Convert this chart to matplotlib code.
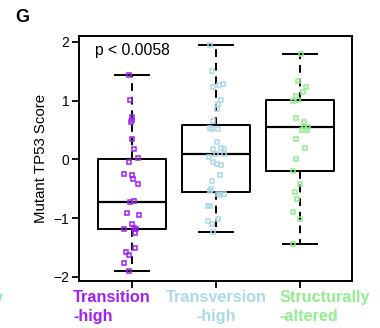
#
# Mutant TP53 score by mutation signature group (panel G)
#

import matplotlib.pyplot as plt

plt.rcParams['font.family'] = ['Liberation Sans', 'DejaVu Sans']

groups = ['Transition\n-high', 'Transversion\n-high', 'Structurally\n-altered']
colors = ['#A020F0', '#ADD8E6', '#90EE90']

# box statistics
whisk_lo = [-1.89, -1.23, -1.44]
q1 = [-1.19, -0.56, -0.19]
med = [-0.72, 0.10, 0.56]
q3 = [0.00, 0.58, 1.02]
whisk_hi = [1.44, 1.94, 1.80]

# jittered points: scores and horizontal offsets
trans_y = [1.44, 1.02, 0.72, 0.68, 0.63, 0.35, 0.17, 0.02, -0.05, -0.24,
           -0.27, -0.34, -0.42, -0.72, -0.71, -0.91, -0.94, -1.09, -1.16,
           -1.18, -1.19, -1.25, -1.51, -1.57, -1.62, -1.76, -1.89]
trans_dx = [-0.04, -0.02, -0.00, -0.00, -0.01, -0.00, 0.02, 0.07, -0.03,
            -0.10, 0.00, 0.01, 0.07, -0.02, 0.02, -0.06, 0.08, 0.00, 0.03,
            -0.10, 0.05, 0.04, 0.04, -0.07, -0.03, -0.09, -0.03]

tv_y = [1.94, 1.51, 1.23, 1.26, 1.29, 1.01, 0.94, 0.86, 0.65, 0.53, 0.52,
        0.52, 0.29, 0.17, 0.20, 0.17, 0.04, 0.09, 0.09, -0.05, -0.08, -0.09,
        -0.27, -0.36, -0.51, -0.54, -0.59, -0.60, -0.59, -0.80, -0.80,
        -1.05, -1.02, -1.10, -1.23]
tv_dx = [-0.07, -0.05, -0.03, 0.04, 0.08, 0.06, 0.02, 0.01, -0.03, -0.07,
         -0.05, 0.02, 0.01, -0.04, 0.06, 0.10, -0.08, 0.00, 0.10, -0.03,
         0.01, 0.06, 0.05, -0.05, -0.06, -0.07, 0.02, 0.05, 0.10, -0.09,
         -0.07, -0.09, 0.02, -0.05, -0.04]

sa_y = [1.80, 1.34, 1.24, 1.14, 1.08, 0.99, 1.01, 0.71, 0.64, 0.56, 0.56,
        0.50, 0.51, 0.34, 0.19, 0.00, -0.19, -0.42, -0.55, -0.68, -0.90,
        -1.02, -1.44]
sa_dx = [0.01, -0.02, 0.07, 0.04, -0.05, -0.08, -0.02, -0.04, 0.05, 0.05,
         0.10, 0.02, 0.08, -0.05, 0.06, -0.05, -0.08, -0.00, -0.06, -0.03,
         -0.08, -0.00, -0.08]

p_text = 'p < 0.0058'


def make_plot():
    fig = plt.figure(figsize=(3.8, 3.28), dpi=100)
    ax = fig.add_axes([0.208, 0.143, 0.718, 0.747])

    stats = []
    for i in range(3):
        stats.append(dict(whislo=whisk_lo[i], q1=q1[i], med=med[i],
                          q3=q3[i], whishi=whisk_hi[i], fliers=[]))
    ax.bxp(stats, positions=[1, 2, 3], widths=0.81, showfliers=False,
           boxprops=dict(color='black', linewidth=1.4),
           medianprops=dict(color='black', linewidth=1.6),
           whiskerprops=dict(color='black', linewidth=1.4,
                             linestyle=(0, (4, 3))),
           capprops=dict(color='black', linewidth=1.4),
           capwidths=0.41)

    for i, (ys, dxs) in enumerate([(trans_y, trans_dx), (tv_y, tv_dx),
                                   (sa_y, sa_dx)]):
        xs = [i + 1 + d for d in dxs]
        ax.plot(xs, ys, linestyle='none', marker='s', markersize=3.3,
                markerfacecolor='none', markeredgecolor=colors[i],
                markeredgewidth=1.1, zorder=3)

    ax.set_xlim(0.37, 3.62)
    ax.set_ylim(-2.07, 2.1)
    ax.set_yticks([-2, -1, 0, 1, 2])
    ax.set_yticklabels(['\u22122', '\u22121', '0', '1', '2'])
    ax.set_xticks([1, 2, 3])
    ax.set_xticklabels([])
    ax.tick_params(axis='both', direction='out', length=5, width=1.3,
                   labelsize=10, pad=2)
    for s in ax.spines.values():
        s.set_linewidth(1.4)

    ax.set_ylabel('Mutant TP53 Score', fontsize=10.8, labelpad=4)
    ax.text(0.56, 1.86, p_text, fontsize=11.3, ha='left', va='center')

    # group labels under the axis, in the group colours
    label_x = [0.30, 2.0, 2.76]
    aligns = ['left', 'center', 'left']
    for i, g in enumerate(groups):
        ax.text(label_x[i], -2.22, g, color=colors[i], fontsize=11.7,
                fontweight='bold', ha=aligns[i],
                va='top', multialignment=aligns[i], linespacing=1.32)

    fig.text(22 / 380, 1 - 18 / 328, 'G', fontsize=13, fontweight='bold',
             ha='center', va='center')
    # edge of neighbouring panel label
    fig.text(-0.015, 1 - 299 / 328, 'y', color=colors[2], fontsize=11.5,
             fontweight='bold', ha='left', va='center')

    fig.savefig('out.png', dpi=100)


if __name__ == '__main__':
    make_plot()
